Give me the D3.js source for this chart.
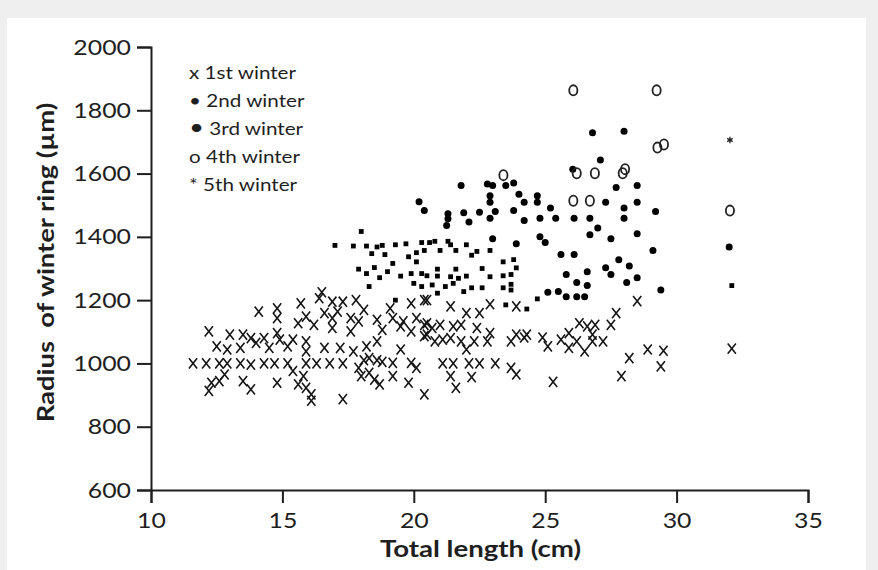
<!DOCTYPE html>
<html>
<head>
<meta charset="utf-8">
<script src="https://cdnjs.cloudflare.com/ajax/libs/d3/7.8.5/d3.min.js"></script>
<style>
  body { margin: 0; background: #efefef; }
  svg { display: block; }
  text { font-family: Lato, "Open Sans", sans-serif; fill: #1e1e1e; }
</style>
</head>
<body>
<div class="chart"></div>
<script>
// tick values
var xTicks = [10, 15, 20, 25, 30, 35];
var yTicks = [600, 800, 1000, 1200, 1400, 1600, 1800, 2000];

// legend
var legendSymbols = ["x", "\u2022", "\u2022", "o", "*"];
var legendLabels = ["1st winter", "2nd winter", "3rd winter", "4th winter", "5th winter"];

// [total length (cm), radius of winter ring (µm)]
var winter1 = [
  [14.1,1164],[14.8,1174],[14.8,1143],[15.7,1190],[16.4,1206],[16.5,1225],[16.9,1195],[17.3,1195],[17.8,1200],[18.1,1169],[19.1,1174],[19.9,1190],[20.4,1200],
  [12.2,1101],[13.0,1091],[13.5,1091],[13.8,1080],[14.3,1080],[14.8,1096],[14.9,1075],[15.6,1127],[15.9,1148],[16.2,1122],[16.6,1159],[16.9,1143],[17.1,1164],
  [17.6,1143],[17.9,1133],[16.9,1112],[17.6,1101],[18.6,1138],[19.2,1143],[19.6,1133],[20.1,1143],[20.5,1127],[18.8,1106],[19.5,1117],[19.9,1101],[20.4,1086],
  [12.5,1054],[12.9,1044],[13.4,1049],[14.0,1065],[14.5,1049],[15.2,1054],[15.4,1075],[15.9,1070],[15.9,1038],[16.6,1049],[17.2,1049],[17.7,1038],[18.2,1054],
  [18.6,1070],[18.3,1017],[19.5,1044],[19.9,1002],[20.1,986],
  [11.6,1000],[12.1,1000],[12.6,1000],[12.9,1000],[13.4,1000],[13.8,996],[14.3,1000],[14.7,1000],[15.2,1000],[15.9,1000],[16.3,1000],[16.8,1000],[17.3,1000],
  [18.1,1010],[18.6,1010],[18.8,1005],[19.2,1002],
  [17.9,986],[18.0,960],[18.3,970],[18.5,949],[18.7,934],[19.2,960],[19.8,939],[12.8,965],[12.6,944],[12.3,939],[12.2,913],[13.5,944],[13.8,918],[14.8,939],
  [15.4,976],[15.8,960],[15.6,934],[15.9,923],[16.1,902],[16.1,882],[17.3,887],[20.4,902],
  [20.5,1200],[21.4,1180],[22.0,1159],[22.5,1159],[22.9,1187],[23.9,1180],[28.5,1197],[27.7,1159],[27.5,1122],[26.3,1127],[26.6,1117],[26.9,1122],
  [20.4,1122],[20.7,1112],[21.0,1122],[21.5,1117],[21.8,1122],[22.4,1112],[22.9,1096],[20.5,1091],[20.8,1070],[21.1,1075],[21.4,1080],[21.8,1070],[22.0,1044],
  [22.3,1070],[22.8,1070],[23.7,1070],[23.9,1091],[24.2,1082],[24.3,1091],[24.9,1082],[25.1,1054],
  [25.6,1075],[25.9,1096],[25.9,1049],[26.2,1070],[26.5,1038],[26.8,1091],[26.8,1070],[27.2,1070],
  [21.1,1000],[21.5,1000],[22.1,1000],[22.5,1000],[23.1,1000],
  [21.4,960],[21.6,923],[22.2,957],[23.7,986],[23.9,965],[25.3,942],
  [28.2,1017],[28.9,1044],[29.5,1040],[29.4,991],[27.9,960],[32.1,1047]
];

var winter2 = [
  [17.0,1373],[17.7,1371],[18.2,1371],[18.6,1368],[18.8,1373],[19.3,1375],[19.7,1378],[20.3,1382],[20.6,1382],[20.8,1386],[21.3,1386],[21.4,1375],[22.0,1375],
  [18.4,1347],[18.9,1344],[19.8,1337],[20.1,1350],[20.4,1357],[21.0,1357],[21.6,1357],[22.2,1342],[22.4,1354],[22.9,1357],
  [19.2,1316],[20.1,1321],[23.4,1321],[23.8,1328],[23.9,1302],
  [17.9,1298],[18.5,1303],[18.2,1284],[19.0,1290],[18.7,1271],[19.5,1276],[19.9,1284],[20.3,1284],[20.5,1277],[20.9,1298],[20.9,1276],[21.6,1298],[21.4,1274],
  [21.7,1269],[22.0,1276],[22.6,1300],[22.9,1274],[23.4,1277],[23.7,1281],
  [18.3,1243],[20.0,1253],[20.3,1243],[20.7,1248],[21.2,1243],[21.5,1253],[21.9,1227],[22.2,1239],[22.6,1239],[20.9,1222],[23.4,1239],[23.7,1250],[23.7,1232],
  [19.3,1200],[23.5,1185],[24.3,1172],[24.7,1204],[18.0,1417],[32.1,1246]
];

var winter3 = [
  [21.8,1562],[22.8,1567],[23.0,1562],[23.5,1562],[23.8,1570],[22.9,1530],[22.9,1509],[24.0,1535],[24.2,1509],[22.5,1478],[23.1,1480],[22.9,1459],[23.8,1483],
  [24.2,1452],[24.7,1530],[24.7,1509],[25.2,1491],[25.4,1459],[24.8,1459],[26.1,1459],[26.7,1459],[28.0,1459],[27.7,1556],[28.5,1562],[27.3,1509],[28.5,1509],
  [28.0,1491],[29.2,1480],[26.8,1729],[28.0,1734],[27.1,1643],[26.05,1614],
  [20.2,1511],[20.4,1483],[21.3,1473],[21.3,1457],[21.25,1436],[21.9,1476],[22.1,1447],
  [23.0,1394],[23.9,1378],[24.8,1400],[25.0,1382],
  [27.0,1428],[26.7,1407],[27.5,1394],[28.5,1410],[29.1,1357],[25.6,1344],[26.1,1344],[27.8,1328],[28.2,1308],[27.3,1302],[27.5,1281],[26.6,1290],[25.8,1281],
  [28.5,1271],[28.1,1256],[26.2,1256],[26.6,1246],[25.1,1225],[25.5,1227],[25.8,1211],[26.2,1211],[26.5,1211],[29.4,1232],[32.0,1368]
];

var winter4 = [
  [26.07,1863],[29.24,1863],[29.27,1682],[29.52,1692],[23.41,1595],[26.2,1601],[26.89,1601],[27.95,1601],[28.04,1614],[26.07,1514],[26.70,1514],[32.03,1483]
];

var winter5 = [[32.03,1706]];

var svgWidth = 878;
var svgHeight = 570;

var margin = { top: 47, right: 70, bottom: 80, left: 151 };
var width = 808 - margin.left;
var height = 490 - margin.top;

// the original figure's lettering is a little wider than Lato
var stretch = 1.13;

var svg = d3.select(".chart")
  .append("svg")
  .attr("width", svgWidth)
  .attr("height", svgHeight);

// white page behind the figure
svg.append("rect")
  .attr("x", 7)
  .attr("y", 18)
  .attr("width", 859)
  .attr("height", svgHeight - 18)
  .attr("fill", "#fff");

var chartGroup = svg.append("g")
  .attr("transform", `translate(${margin.left}, ${margin.top})`);

var x = d3.scaleLinear().domain([10, 35]).range([0, width]);
var y = d3.scaleLinear().domain([600, 2000]).range([height, 0]);

var ink = "#1e1e1e";

// axes
var xAxis = chartGroup.append("g")
  .attr("transform", `translate(0, ${height})`)
  .call(d3.axisBottom(x).tickValues(xTicks).tickFormat(d3.format("d")).tickSize(13).tickPadding(9));

var yAxis = chartGroup.append("g")
  .call(d3.axisLeft(y).tickValues(yTicks).tickFormat(d3.format("d")).tickSize(14).tickPadding(6));

[xAxis, yAxis].forEach(function (a) {
  a.selectAll("path, line").attr("stroke", ink).attr("stroke-width", 2);
  a.selectAll("text").style("font-size", "22px").attr("fill", ink);
});

// widen tick labels around their anchor
yAxis.selectAll(".tick text")
  .attr("transform", `translate(-20,0) scale(${stretch},1) translate(20,0)`);
xAxis.selectAll(".tick text")
  .attr("transform", `scale(${stretch},1)`);

// 1st winter: x
chartGroup.append("g").selectAll("path")
  .data(winter1)
  .enter()
  .append("path")
  .attr("transform", d => `translate(${x(d[0])}, ${y(d[1])})`)
  .attr("d", "M-4.1,-5.1L4.1,5.1M4.1,-5.1L-4.1,5.1")
  .attr("stroke", "#151515")
  .attr("stroke-width", 1.6)
  .attr("fill", "none");

// 2nd winter: small squares
chartGroup.append("g").selectAll("rect")
  .data(winter2)
  .enter()
  .append("rect")
  .attr("x", d => x(d[0]) - 2.4)
  .attr("y", d => y(d[1]) - 2.4)
  .attr("width", 4.8)
  .attr("height", 4.8)
  .attr("fill", "#000");

// 3rd winter: filled dots
chartGroup.append("g").selectAll("circle")
  .data(winter3)
  .enter()
  .append("circle")
  .attr("cx", d => x(d[0]))
  .attr("cy", d => y(d[1]))
  .attr("r", 3.5)
  .attr("fill", "#000");

// 4th winter: open circles
chartGroup.append("g").selectAll("ellipse")
  .data(winter4)
  .enter()
  .append("ellipse")
  .attr("cx", d => x(d[0]))
  .attr("cy", d => y(d[1]))
  .attr("rx", 4.1)
  .attr("ry", 5.1)
  .attr("fill", "none")
  .attr("stroke", "#222")
  .attr("stroke-width", 1.8);

// 5th winter: asterisk
chartGroup.append("g").selectAll("path")
  .data(winter5)
  .enter()
  .append("path")
  .attr("transform", d => `translate(${x(d[0])}, ${y(d[1])})`)
  .attr("d", d3.symbol().type(d3.symbolAsterisk).size(28))
  .attr("stroke", "#222")
  .attr("stroke-width", 1.3)
  .attr("fill", "none");

// legend: symbol and label in one line of text each
var legend = svg.append("g")
  .attr("transform", `translate(189, 79) scale(${stretch + 0.05},1)`);

legendLabels.forEach(function (label, i) {
  var t = legend.append("text")
    .attr("y", i * 28)
    .style("font-size", "17.5px");
  t.append("tspan")
    .style("font-size", i === 2 ? "22px" : "17.5px")
    .text(legendSymbols[i]);
  t.append("tspan")
    .text("\u00a0" + label);
});

// axis titles
chartGroup.append("text")
  .attr("transform", `rotate(-90) translate(${-height / 2 + 6}, ${54 - margin.left}) scale(1.19,1)`)
  .attr("text-anchor", "middle")
  .style("font-size", "23px")
  .style("font-weight", "bold")
  .text("Radius\u00a0 of winter ring (\u00b5m)");

chartGroup.append("text")
  .attr("transform", `translate(${width / 2 + 1}, ${height + 67}) scale(1.2,1)`)
  .attr("text-anchor", "middle")
  .style("font-size", "23px")
  .style("font-weight", "bold")
  .text("Total length (cm)");
</script>
</body>
</html>
